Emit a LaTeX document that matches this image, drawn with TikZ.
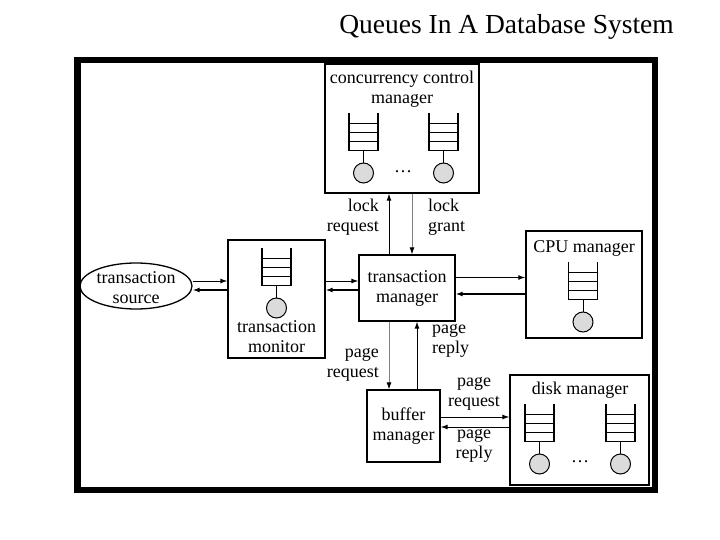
\documentclass[tikz,border=0pt]{standalone}
\usepackage{fontspec}
\setmainfont{Liberation Serif}
\usetikzlibrary{arrows.meta,shapes.geometric,calc}
\definecolor{qgray}{gray}{0.86}
\definecolor{lgray}{gray}{0.5}
\begin{document}
\begin{tikzpicture}[x=1pt,y=-1pt,
  box/.style={draw, line width=1.3pt, inner sep=0pt},
  lbl/.style={font=\fontsize{18}{20}\selectfont, inner sep=0pt, align=center},
  tip/.style={-{Latex[length=7pt,width=5pt,color=black]}},
  arr/.style={tip, line width=1pt},
  arrthick/.style={tip, line width=1.8pt},
  arrgray/.style={tip, line width=0.8pt, draw=lgray},
  queue/.pic={
    \draw[line width=0.8pt] (-14.5,10) -- (14.5,10) (-14.5,19) -- (14.5,19) (-14.5,28) -- (14.5,28);
    \draw[line width=1.4pt] (-14.5,0) -- (-14.5,37.5) -- (14.5,37.5) -- (14.5,0);
    \draw[line width=0.8pt] (0,37.5) -- (0,50);
    \draw[line width=1pt, fill=qgray] (0,60) circle[radius=10];
  }
]
\useasboundingbox (0,0) rectangle (720,540);
\fill[white] (0,0) rectangle (720,540);

\node[lbl, anchor=base, font=\fontsize{27.5}{30}\selectfont] (title) at (506.5,34) {Queues In A Database System};

\draw[line width=6.5pt] (77.25,60.25) rectangle (654.75,489.75);

% boxes
\node[box, minimum width=154pt, minimum height=129pt] (ccm) at (402,128.5) {};
\node[box, minimum width=97pt, minimum height=118pt] (mon) at (276.5,299) {};
\node[box, lbl, minimum width=96pt, minimum height=66pt] (tm) at (407,288) {transaction\\manager};
\node[box, minimum width=116pt, minimum height=107pt] (cpu) at (584,284.5) {};
\node[box, lbl, minimum width=73pt, minimum height=72pt] (bm) at (403.5,426) {buffer\\manager};
\node[box, minimum width=139pt, minimum height=110pt] (disk) at (579.5,430) {};
\node[draw, ellipse, line width=1.3pt, minimum width=112pt, minimum height=46pt, inner sep=0pt] (src) at (136,286) {};
\node[lbl] (srct) at (136,288) {transaction\\source};

% box titles
\node[lbl] (ccmt) at (402,89) {concurrency control\\manager};
\node[lbl] (cput) at (584,248) {CPU manager};
\node[lbl] (diskt) at (580,390) {disk manager};
\node[lbl] (mont) at (276.5,337) {transaction\\monitor};

% queues
\pic at (276.5,248) {queue};
\pic at (363.5,113) {queue};
\pic at (443.5,113) {queue};
\pic at (583,262) {queue};
\pic at (539.5,404) {queue};
\pic at (620.5,404) {queue};
\node[lbl] (ccmdots) at (403,172) {\ldots};
\node[lbl] (diskdots) at (580,462) {\ldots};

% vertical connectors
\draw[arr] ([xshift=-18pt]tm.north) -- ([xshift=-18pt]tm.north |- ccm.south);
\draw[arrgray] ([xshift=5pt]tm.north |- ccm.south) -- ([xshift=5pt]tm.north);
\draw[arrgray] ([xshift=-18pt]tm.south) -- ([xshift=-18pt]tm.south |- bm.north);
\draw[arr] ([xshift=10pt]tm.south |- bm.north) -- ([xshift=10pt]tm.south);

% horizontal connectors
\draw[arr] ([yshift=5pt]src.east) -- ([yshift=5pt]src.east -| mon.west);
\draw[arrthick] ([yshift=-4pt]src.east -| mon.west) -- ([yshift=-4pt]src.east);
\draw[arr] ([yshift=7pt]tm.west -| mon.east) -- ([yshift=7pt]tm.west);
\draw[arrthick] ([yshift=-2pt]tm.west) -- ([yshift=-2pt]tm.west -| mon.east);
\draw[arr] ([yshift=10.5pt]tm.east) -- ([yshift=10.5pt]tm.east -| cpu.west);
\draw[arrthick] ([yshift=-6pt]tm.east -| cpu.west) -- ([yshift=-6pt]tm.east);
\draw[arr] ([yshift=9pt]bm.east) -- ([yshift=9pt]bm.east -| disk.west);
\draw[arr] ([yshift=-1pt]bm.east -| disk.west) -- ([yshift=-1pt]bm.east);

% connector labels
\node[lbl, anchor=east, align=right] (lr) at (379,217.5) {lock\\request};
\node[lbl, anchor=west, align=left] (lg) at (428,217.5) {lock\\grant};
\node[lbl, anchor=east, align=right] (pr1) at (379,365) {page\\request};
\node[lbl, anchor=west, align=left] (pp1) at (432,341) {page\\reply};
\node[lbl] (pr2) at (474,394) {page\\request};
\node[lbl] (pp2) at (474,446) {page\\reply};
\end{tikzpicture}
\end{document}
